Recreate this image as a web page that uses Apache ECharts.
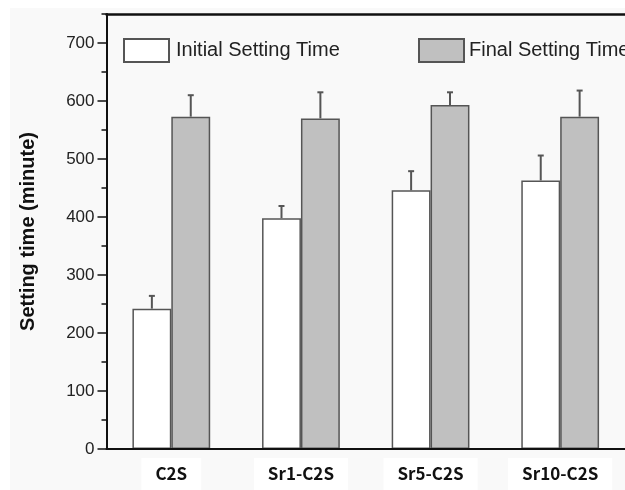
<!DOCTYPE html>
<html>
<head>
<meta charset="utf-8">
<script src="https://cdn.jsdelivr.net/npm/echarts@6/dist/echarts.min.js"></script>
<style>
html, body { margin: 0; padding: 0; background: #fff; }
#chart { width: 625px; height: 490px; }
</style>
</head>
<body>
<div id="chart"></div>
<script>
var categories = ['C2S', 'Sr1-C2S', 'Sr5-C2S', 'Sr10-C2S'];
var seriesNames = ['Initial Setting Time', 'Final Setting Time'];
var initialTime = [242, 398, 446, 463];
var initialErr = [22, 21, 33, 43];
var finalTime = [573, 570, 593, 573];
var finalErr = [37, 45, 22, 45];
var yMajorTicks = [0, 100, 200, 300, 400, 500, 600, 700];
var yMinorTicks = [50, 150, 250, 350, 450, 550, 650, 750];

var edge = '#555555';

// error bar drawn upward from bar top, offset to the bar's slot
function errorSeries(values, errs, offset) {
    return {
        type: 'custom',
        xAxisIndex: 0,
        yAxisIndex: 0,
        silent: true,
        z: 5,
        data: values.map(function (v, i) { return [i, v, v + errs[i]]; }),
        renderItem: function (params, api) {
            var base = api.coord([api.value(0), api.value(1)]);
            var top = api.coord([api.value(0), api.value(2)]);
            var bw = api.size([1, 0])[0] * 0.3;
            var x = base[0] + offset * bw;
            var style = { stroke: edge, lineWidth: 2 };
            return {
                type: 'group',
                children: [
                    { type: 'line', shape: { x1: x, y1: base[1], x2: x, y2: top[1] }, style: style },
                    { type: 'line', shape: { x1: x - 3, y1: top[1], x2: x + 3, y2: top[1] }, style: style }
                ]
            };
        }
    };
}

var chart = echarts.init(document.getElementById('chart'));
var option = {
    backgroundColor: '#ffffff',
    animation: false,
    graphic: [{
        type: 'rect', z: -10, silent: true,
        shape: { x: 10, y: 8, width: 615, height: 482 },
        style: { fill: '#f9f9f9' }
    }],
    textStyle: { fontFamily: 'Liberation Sans, Arial, sans-serif' },
    legend: [{
        data: [seriesNames[0]],
        icon: 'rect',
        left: 118, top: 33,
        itemWidth: 45, itemHeight: 23, itemGap: 0,
        textStyle: { fontSize: 20, color: '#222', padding: [0, 0, 0, 2] }
    }, {
        data: [seriesNames[1]],
        icon: 'rect',
        left: 413, top: 33,
        itemWidth: 45, itemHeight: 23, itemGap: 0,
        textStyle: { fontSize: 20, color: '#222', padding: [0, 0, 0, 0] }
    }],
    grid: { left: 106.5, right: -7.5, top: 14, bottom: 38 },
    xAxis: [{
        type: 'category',
        data: categories,
        position: 'bottom',
        axisLine: { onZero: false, lineStyle: { color: '#111', width: 2 } },
        axisTick: { alignWithLabel: true, length: 8, lineStyle: { color: '#111', width: 1.5 } },
        axisLabel: {
            fontFamily: 'Noto Sans CJK SC', fontWeight: 'bold', fontSize: 17, color: '#111',
            backgroundColor: '#ffffff', padding: [6, 14, 6, 14], lineHeight: 20, margin: 9
        },
        z: 10
    }, {
        type: 'category',
        data: categories,
        position: 'top',
        axisLine: { onZero: false, lineStyle: { color: '#111', width: 2.5 } },
        axisTick: { show: false },
        axisLabel: { show: false }
    }, {
        type: 'category',
        data: categories,
        position: 'bottom',
        axisLine: { show: false, onZero: false },
        axisTick: { length: 4, lineStyle: { color: '#111', width: 1.5 } },
        axisLabel: { show: false }
    }],
    yAxis: [{
        type: 'value',
        min: 0, max: 750, interval: 50,
        name: 'Setting time (minute)',
        nameLocation: 'middle',
        nameGap: 68,
        nameTextStyle: { fontSize: 20, fontWeight: 'bold', color: '#111' },
        splitLine: { show: false },
        axisLine: { show: true, lineStyle: { color: '#111', width: 2 } },
        axisTick: { show: true, length: 9, customValues: yMajorTicks, lineStyle: { color: '#111', width: 1.5 } },
        axisLabel: { fontSize: 17, color: '#222', margin: 12, customValues: yMajorTicks },
        z: 10
    }, {
        type: 'value',
        min: 0, max: 750, interval: 50,
        position: 'left',
        splitLine: { show: false },
        axisLine: { show: false },
        axisTick: { show: true, length: 5, customValues: yMinorTicks, lineStyle: { color: '#111', width: 1.5 } },
        axisLabel: { show: false }
    }],
    series: [{
        name: seriesNames[0],
        type: 'bar',
        data: initialTime,
        barWidth: '30%',
        barGap: '0%',
        itemStyle: { color: '#ffffff', borderColor: edge, borderWidth: 1.5 }
    }, {
        name: seriesNames[1],
        type: 'bar',
        data: finalTime,
        barWidth: '30%',
        barGap: '0%',
        itemStyle: { color: '#c0c0c0', borderColor: edge, borderWidth: 1.5 }
    },
    errorSeries(initialTime, initialErr, -0.5),
    errorSeries(finalTime, finalErr, 0.5)
    ]
};
chart.setOption(option);
</script>
</body>
</html>
